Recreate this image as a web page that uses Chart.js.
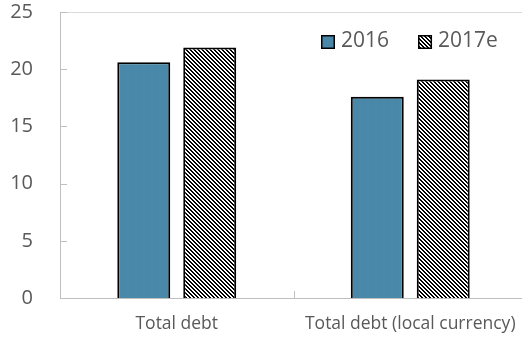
<!DOCTYPE html>
<html>
<head>
<meta charset="utf-8">
<script src="https://cdn.jsdelivr.net/npm/chart.js@4.4.1/dist/chart.umd.min.js"></script>
<style>
  html, body { margin: 0; padding: 0; overflow: hidden; background: #fff; }
  canvas { display: block; }
</style>
</head>
<body>
<canvas id="chart" width="527" height="339"></canvas>
<script>
(() => {
  'use strict';

  // ===== Data =====
  const categories   = ['Total debt', 'Total debt (local currency)'];
  const seriesLabels = ['2016', '2017e'];
  const values2016   = [20.6, 17.6];
  const values2017e  = [21.9, 19.1];
  const yTicks       = [0, 5, 10, 15, 20, 25];

  // ===== Styles =====
  const TEXT = '#595959';
  const AXIS = '#bfbfbf';
  const FRAME = '#d9d9d9';
  const FONT = "'Open Sans', sans-serif";

  // pixel tile -> pattern
  function makePattern(size, paint) {
    const c = document.createElement('canvas');
    c.width = c.height = size;
    const ctx = c.getContext('2d');
    const img = ctx.createImageData(size, size);
    for (let y = 0; y < size; y++) {
      for (let x = 0; x < size; x++) {
        const [r, g, b] = paint(x, y);
        const i = (y * size + x) * 4;
        img.data[i] = r; img.data[i + 1] = g; img.data[i + 2] = b; img.data[i + 3] = 255;
      }
    }
    ctx.putImageData(img, 0, 0);
    return ctx.createPattern(c, 'repeat');
  }

  const blueFill = makePattern(8, (x, y) =>
    (x === 3 && y === 3) ? [66, 124, 158] : [74, 136, 170]);
  const hatchFill = makePattern(4, (x, y) =>
    ((x - y + 40) % 4) < 2 ? [0, 0, 0] : [255, 255, 255]);

  // ===== Plugin: frame, inner ticks, legend =====
  const extras = {
    id: 'extras',
    afterDraw(chart) {
      const { ctx, chartArea: a, scales } = chart;
      ctx.save();
      ctx.lineWidth = 1;

      // top border of plot area
      ctx.strokeStyle = FRAME;
      ctx.beginPath();
      ctx.moveTo(a.left, a.top + 0.5);
      ctx.lineTo(a.right, a.top + 0.5);
      ctx.stroke();

      // inner ticks
      ctx.strokeStyle = AXIS;
      ctx.beginPath();
      yTicks.forEach(v => {
        const y = Math.round(scales.y.getPixelForValue(v)) + 0.5;
        ctx.moveTo(a.left, y);
        ctx.lineTo(a.left + 7, y);
      });
      for (let i = 0; i <= categories.length; i++) {
        const x = Math.round(scales.x.getPixelForValue(i - 0.5)) + 0.5;
        ctx.moveTo(x, a.bottom);
        ctx.lineTo(x, a.bottom - 7);
      }
      ctx.stroke();

      // legend
      ctx.font = '21px ' + FONT;
      ctx.textBaseline = 'alphabetic';
      let x = 321;
      chart.data.datasets.forEach(ds => {
        ctx.fillStyle = ds.backgroundColor;
        ctx.fillRect(x, 35, 14, 14);
        ctx.strokeStyle = '#000';
        ctx.lineWidth = 1.5;
        ctx.strokeRect(x + 0.75, 35.75, 12.5, 12.5);
        ctx.fillStyle = TEXT;
        ctx.fillText(ds.label, x + 20, 47);
        x += 20 + ctx.measureText(ds.label).width + 29;
      });
      ctx.restore();
    }
  };

  // ===== Chart =====
  new Chart(document.getElementById('chart'), {
    type: 'bar',
    data: {
      labels: categories,
      datasets: [
        { label: seriesLabels[0], data: values2016, backgroundColor: blueFill },
        { label: seriesLabels[1], data: values2017e, backgroundColor: hatchFill }
      ]
    },
    options: {
      responsive: false,
      animation: false,
      events: [],
      devicePixelRatio: 1,
      layout: { padding: { top: 12, right: 0, left: 0, bottom: 0 } },
      datasets: {
        bar: {
          borderColor: '#000',
          borderWidth: 2,
          categoryPercentage: 0.565,
          barPercentage: 0.803
        }
      },
      plugins: {
        legend: { display: false },
        tooltip: { enabled: false }
      },
      scales: {
        x: {
          grid: { display: false, drawTicks: false },
          border: { color: AXIS, width: 1 },
          ticks: {
            color: TEXT,
            font: { family: FONT, size: 17.5 },
            padding: 16,
            autoSkip: false,
            maxRotation: 0
          },
          afterFit: s => { s.height = 41; s.paddingLeft = 0; s.paddingRight = 0; }
        },
        y: {
          min: 0,
          max: 25,
          grid: { display: false, drawTicks: false },
          border: { color: AXIS, width: 1 },
          ticks: {
            color: TEXT,
            font: { family: FONT, size: 20 },
            padding: 27
          },
          afterBuildTicks: s => { s.ticks = yTicks.map(v => ({ value: v })); },
          afterFit: s => { s.width = 60; s.paddingTop = 0; s.paddingBottom = 0; }
        }
      }
    },
    plugins: [extras]
  });
})();
</script>
</body>
</html>
